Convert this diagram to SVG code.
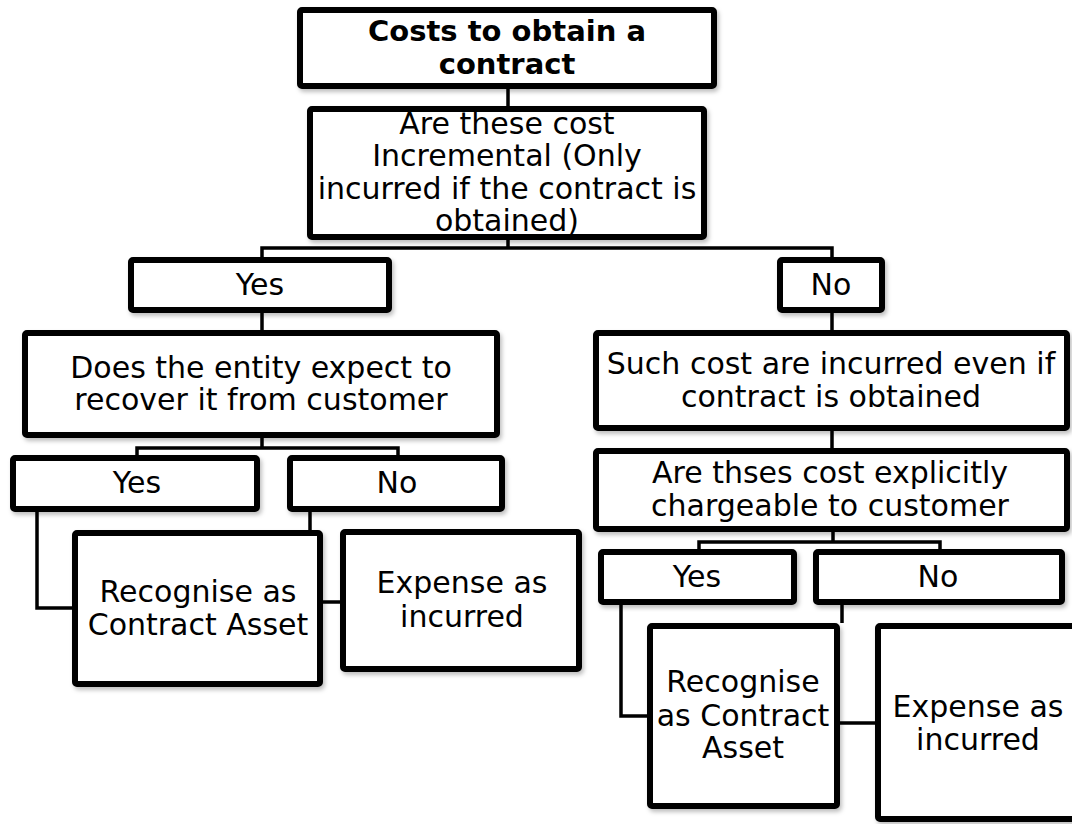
<svg xmlns="http://www.w3.org/2000/svg" width="1072" height="824" viewBox="0 0 1072 824">
<defs>
<filter id="sh" x="-10%" y="-10%" width="130%" height="130%">
<feDropShadow dx="2" dy="3" stdDeviation="2" flood-color="#000" flood-opacity="0.25"/>
</filter>
<style>
.box{fill:#fff;stroke:#000;stroke-width:6;filter:url(#sh)}
.t{font-family:"DejaVu Sans","Verdana",sans-serif;font-size:30px;fill:#000;text-anchor:middle}
.b{font-weight:bold;font-size:29px}
.c{fill:none;stroke:#000;stroke-width:3.5}
</style>
</defs>
<rect width="1072" height="824" fill="#fff"/>
<g id="connectors">
<path class="c" d="M508,89V106"/>
<path class="c" d="M508,240V248M262,257V248H832V257"/>
<path class="c" d="M262,313V330"/>
<path class="c" d="M832,313V330"/>
<path class="c" d="M262,438V448M137,455V448H398V455"/>
<path class="c" d="M37,512V608H72"/>
<path class="c" d="M310,512V530"/>
<path class="c" d="M323,602H340"/>
<path class="c" d="M832,431V448"/>
<path class="c" d="M833,532V542M699,549V542H940V549"/>
<path class="c" d="M621,605V716H647"/>
<path class="c" d="M842,605V623"/>
<path class="c" d="M840,723H875"/>
</g>
<g id="n-root"><rect class="box" x="300" y="10" width="414" height="76" rx="2"/>
<text class="t b" x="507" y="41">Costs to obtain a</text><text class="t b" x="507" y="74">contract</text></g>
<g id="n-incremental"><rect class="box" x="310" y="109" width="394" height="128" rx="2"/>
<text class="t" x="507" y="134">Are these cost</text><text class="t" x="507" y="166">Incremental (Only</text><text class="t" x="507" y="199">incurred if the contract is</text><text class="t" x="507" y="231">obtained)</text></g>
<g id="n-yes1"><rect class="box" x="131" y="260" width="258" height="50" rx="2"/><text class="t" x="260" y="295">Yes</text></g>
<g id="n-no1"><rect class="box" x="780" y="260" width="102" height="50" rx="2"/><text class="t" x="831" y="295">No</text></g>
<g id="n-recover"><rect class="box" x="25" y="333" width="472" height="102" rx="2"/>
<text class="t" x="261" y="378">Does the entity expect to</text><text class="t" x="261" y="410">recover it from customer</text></g>
<g id="n-yes2"><rect class="box" x="13" y="458" width="244" height="51" rx="2"/><text class="t" x="137" y="493">Yes</text></g>
<g id="n-no2"><rect class="box" x="290" y="458" width="212" height="51" rx="2"/><text class="t" x="397" y="493">No</text></g>
<g id="n-asset1"><rect class="box" x="75" y="533" width="245" height="151" rx="2"/>
<text class="t" x="198" y="602">Recognise as</text><text class="t" x="198" y="635">Contract Asset</text></g>
<g id="n-expense1"><rect class="box" x="343" y="532" width="236" height="137" rx="2"/>
<text class="t" x="462" y="593">Expense as</text><text class="t" x="462" y="627">incurred</text></g>
<g id="n-such"><rect class="box" x="596" y="333" width="471" height="95" rx="2"/>
<text class="t" x="831" y="374">Such cost are incurred even if</text><text class="t" x="831" y="407">contract is obtained</text></g>
<g id="n-chargeable"><rect class="box" x="596" y="451" width="471" height="78" rx="2"/>
<text class="t" x="830" y="483">Are thses cost explicitly</text><text class="t" x="830" y="516">chargeable to customer</text></g>
<g id="n-yes3"><rect class="box" x="601" y="552" width="193" height="50" rx="2"/><text class="t" x="697" y="587">Yes</text></g>
<g id="n-no3"><rect class="box" x="816" y="552" width="246" height="50" rx="2"/><text class="t" x="938" y="587">No</text></g>
<g id="n-asset2"><rect class="box" x="650" y="626" width="187" height="180" rx="2"/>
<text class="t" x="743" y="692">Recognise</text><text class="t" x="743" y="726">as Contract</text><text class="t" x="743" y="758">Asset</text></g>
<g id="n-expense2"><rect class="box" x="878" y="626" width="205" height="193" rx="2"/>
<text class="t" x="978" y="717">Expense as</text><text class="t" x="978" y="750">incurred</text></g>
</svg>
